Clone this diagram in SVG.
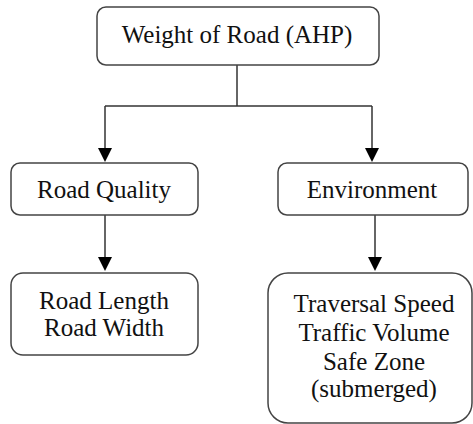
<svg xmlns="http://www.w3.org/2000/svg" width="473" height="424" viewBox="0 0 473 424">
<style>
.box{fill:#fff;stroke:#444;stroke-width:1.5}
.t{font-family:'Liberation Serif','Times New Roman',serif;font-size:25px;fill:#111;text-anchor:middle}
.c{fill:none;stroke:#333;stroke-width:1.5}
.ah{fill:#000}
</style>
<g id="connectors">
<path class="c" d="M237,65 V106"/>
<path class="c" d="M105,106 H372"/>
<path class="c" d="M105,106 V148"/>
<path class="ah" d="M98,148 H112 L105,162 Z"/>
<path class="c" d="M372,106 V148"/>
<path class="ah" d="M365,148 H379 L372,162 Z"/>
<path class="c" d="M105,215 V257"/>
<path class="ah" d="M98,257 H112 L105,271 Z"/>
<path class="c" d="M375,215 V257"/>
<path class="ah" d="M368,257 H382 L375,271 Z"/>
</g>
<g id="root">
<rect class="box" x="97" y="7" width="282" height="58" rx="9"/>
<text class="t" x="237" y="43">Weight of Road (AHP)</text>
</g>
<g id="road-quality">
<rect class="box" x="11" y="163" width="187" height="52" rx="9"/>
<text class="t" x="104" y="198">Road Quality</text>
</g>
<g id="environment">
<rect class="box" x="278" y="163" width="190" height="52" rx="9"/>
<text class="t" x="372" y="198">Environment</text>
</g>
<g id="road-attrs">
<rect class="box" x="11" y="273" width="187" height="82" rx="12"/>
<text class="t" x="104" y="309">Road Length</text>
<text class="t" x="104" y="336">Road Width</text>
</g>
<g id="env-attrs">
<rect class="box" x="268" y="273" width="204" height="150" rx="20"/>
<text class="t" x="374" y="312">Traversal Speed</text>
<text class="t" x="374" y="341">Traffic Volume</text>
<text class="t" x="374" y="370">Safe Zone</text>
<text class="t" x="374" y="397">(submerged)</text>
</g>
</svg>
